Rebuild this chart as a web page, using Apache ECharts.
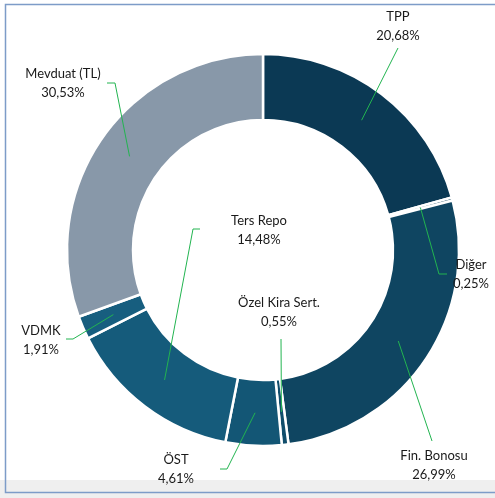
<!DOCTYPE html>
<html>
<head>
<meta charset="utf-8">
<script src="https://cdn.jsdelivr.net/npm/echarts@6/dist/echarts.min.js"></script>
<style>
  html, body { margin: 0; padding: 0; background: #ffffff; }
  #pieChart { width: 495px; height: 498px; }
</style>
</head>
<body>
<div id="pieChart"></div>
<script>
// dilimler saat yönünde, tepeden başlayarak
var categories = ['TPP', 'Diğer', 'Fin. Bonosu', 'Özel Kira Sert.', 'ÖST', 'Ters Repo', 'VDMK', 'Mevduat (TL)'];
var shares = [20.68, 0.25, 26.99, 0.55, 4.61, 14.48, 1.91, 30.53];
var sliceColors = ['#0b3954', '#0d4059', '#0f4561', '#104d6b', '#135675', '#155b7b', '#175e7f', '#8898a9'];

// etiket yerleşimi (Excel'deki gibi elle konumlanmış)
var labelPos = [[398, 26], [471, 274], [434, 465], [279, 312], [176, 469], [259, 230], [41, 340], [63, 83]];
var lineEnd = [[398, 48], [447, 274], [432, 441], [281, 339], [220, 469], [200, 229], [66, 339], [107, 83]];
var elbow = [0, -8, 0, 0, 7, -7, 7, 8];   // yatay kırılma uzunluğu

var center = [263, 250];
var radius = [130, 196];

// her dilimin orta açısı, halkanın ortasında
function anchorOf(i) {
    var total = shares.reduce(function (a, b) { return a + b; }, 0);
    var before = 0;
    for (var k = 0; k < i; k++) before += shares[k];
    var mid = (before + shares[i] / 2) / total * Math.PI * 2;
    var r = (radius[0] + radius[1]) / 2;
    return [center[0] + r * Math.sin(mid), center[1] - r * Math.cos(mid)];
}

var pieData = categories.map(function (name, i) {
    return { name: name, value: shares[i] };
});

var chart = echarts.init(document.getElementById('pieChart'));
chart.setOption({
    animation: false,
    color: sliceColors,
    graphic: [
        { type: 'rect', silent: true, z: -10, shape: { x: 0, y: 480, width: 495, height: 18 }, style: { fill: '#efefef' } },
        { type: 'polyline', silent: true, z: -5, shape: { points: [[495, 4.5], [5.5, 4.5], [5.5, 492.5], [495, 492.5]] },
          style: { stroke: '#7d9cc8', lineWidth: 1.5, fill: null } }
    ],
    series: [
        {
            // halka
            type: 'pie',
            z: 2,
            center: center,
            radius: radius,
            startAngle: 90,
            clockwise: true,
            data: pieData,
            itemStyle: { borderColor: '#ffffff', borderWidth: 2.5 },
            label: { show: false },
            labelLine: { show: false },
            emphasis: { disabled: true }
        },
        {
            // etiketler ve çizgiler dilimlerin üstünde
            type: 'pie',
            z: 5,
            silent: true,
            center: center,
            radius: radius,
            startAngle: 90,
            clockwise: true,
            avoidLabelOverlap: false,
            data: pieData,
            itemStyle: { color: 'rgba(0,0,0,0)', borderWidth: 0 },
            label: {
                show: true,
                position: 'outside',
                fontFamily: 'Lato',
                fontSize: 13,
                lineHeight: 19,
                color: '#1a1a1a',
                formatter: function (p) {
                    return p.name + '\n' + p.value.toFixed(2).replace('.', ',') + '%';
                }
            },
            labelLine: {
                show: true,
                lineStyle: { color: '#22b450', width: 1 }
            },
            labelLayout: function (params) {
                var i = params.dataIndex;
                var a = anchorOf(i);
                var e = lineEnd[i];
                return {
                    x: labelPos[i][0],
                    y: labelPos[i][1],
                    align: 'center',
                    verticalAlign: 'middle',
                    labelLinePoints: [a, [e[0] + elbow[i], e[1]], e]
                };
            },
            emphasis: { disabled: true }
        }
    ]
});
</script>
</body>
</html>
